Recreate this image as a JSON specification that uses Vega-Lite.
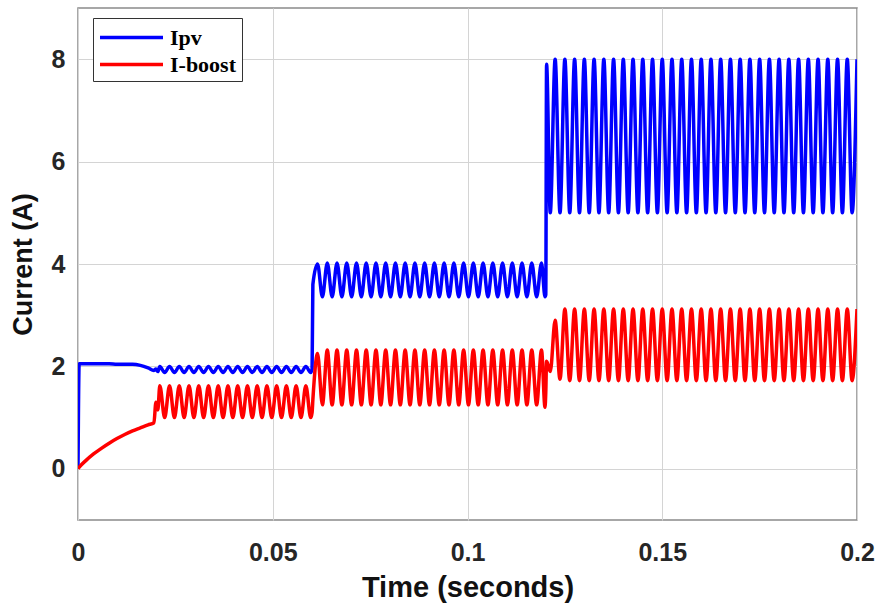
{
  "$schema": "https://vega.github.io/schema/vega-lite/v6.json",
  "width": 779,
  "height": 512,
  "autosize": "none",
  "padding": {"left": 78, "top": 8, "right": 26, "bottom": 93},
  "background": "white",
  "config": {
    "view": {"stroke": "#8a8a8a", "strokeWidth": 1.5},
    "axis": {
      "grid": true,
      "gridColor": "#d4d4d4",
      "gridWidth": 1,
      "ticks": false,
      "domain": false,
      "labelFont": "Liberation Sans",
      "labelFontSize": 25,
      "labelFontWeight": "bold",
      "labelColor": "#262626",
      "titleFont": "Liberation Sans",
      "titleFontWeight": "bold",
      "titleColor": "#111111"
    }
  },
  "data": {
    "values": [
      {"t": 0, "Ipv": 0, "I-boost": 0},
      {"t": 0.0003, "Ipv": 2.05, "I-boost": 0.03},
      {"t": 0.002, "Ipv": 2.05, "I-boost": 0.16},
      {"t": 0.004, "Ipv": 2.05, "I-boost": 0.29},
      {"t": 0.006, "Ipv": 2.05, "I-boost": 0.4},
      {"t": 0.008, "Ipv": 2.05, "I-boost": 0.5},
      {"t": 0.01, "Ipv": 2.04, "I-boost": 0.59},
      {"t": 0.012, "Ipv": 2.04, "I-boost": 0.67},
      {"t": 0.014, "Ipv": 2.04, "I-boost": 0.74},
      {"t": 0.016, "Ipv": 2.02, "I-boost": 0.8},
      {"t": 0.018, "Ipv": 1.97, "I-boost": 0.86},
      {"t": 0.0195, "Ipv": 1.92, "I-boost": 0.9},
      {"t": 0.02, "Ipv": 1.95, "I-boost": 1.3},
      {"t": 0.0205, "Ipv": 1.9, "I-boost": 1.15},
      {"t": 0.021, "Ipv": 2.0, "I-boost": 1.62},
      {"t": 0.02225, "Ipv": 1.88, "I-boost": 1.0},
      {"t": 0.0235, "Ipv": 2.0, "I-boost": 1.62},
      {"t": 0.02475, "Ipv": 1.88, "I-boost": 1.0},
      {"t": 0.026, "Ipv": 2.0, "I-boost": 1.62},
      {"t": 0.02725, "Ipv": 1.88, "I-boost": 1.0},
      {"t": 0.0285, "Ipv": 2.0, "I-boost": 1.62},
      {"t": 0.02975, "Ipv": 1.88, "I-boost": 1.0},
      {"t": 0.031, "Ipv": 2.0, "I-boost": 1.62},
      {"t": 0.03225, "Ipv": 1.88, "I-boost": 1.0},
      {"t": 0.0335, "Ipv": 2.0, "I-boost": 1.62},
      {"t": 0.03475, "Ipv": 1.88, "I-boost": 1.0},
      {"t": 0.036, "Ipv": 2.0, "I-boost": 1.62},
      {"t": 0.03725, "Ipv": 1.88, "I-boost": 1.0},
      {"t": 0.0385, "Ipv": 2.0, "I-boost": 1.62},
      {"t": 0.03975, "Ipv": 1.88, "I-boost": 1.0},
      {"t": 0.041, "Ipv": 2.0, "I-boost": 1.62},
      {"t": 0.04225, "Ipv": 1.88, "I-boost": 1.0},
      {"t": 0.0435, "Ipv": 2.0, "I-boost": 1.62},
      {"t": 0.04475, "Ipv": 1.88, "I-boost": 1.0},
      {"t": 0.046, "Ipv": 2.0, "I-boost": 1.62},
      {"t": 0.04725, "Ipv": 1.88, "I-boost": 1.0},
      {"t": 0.0485, "Ipv": 2.0, "I-boost": 1.62},
      {"t": 0.04975, "Ipv": 1.88, "I-boost": 1.0},
      {"t": 0.051, "Ipv": 2.0, "I-boost": 1.62},
      {"t": 0.05225, "Ipv": 1.88, "I-boost": 1.0},
      {"t": 0.0535, "Ipv": 2.0, "I-boost": 1.62},
      {"t": 0.05475, "Ipv": 1.88, "I-boost": 1.0},
      {"t": 0.056, "Ipv": 2.0, "I-boost": 1.62},
      {"t": 0.05725, "Ipv": 1.88, "I-boost": 1.0},
      {"t": 0.0585, "Ipv": 2.0, "I-boost": 1.62},
      {"t": 0.05975, "Ipv": 1.88, "I-boost": 1.0},
      {"t": 0.0601, "Ipv": 1.95, "I-boost": 1.1},
      {"t": 0.0603, "Ipv": 3.6, "I-boost": 1.35},
      {"t": 0.0615, "Ipv": 4.0, "I-boost": 2.25},
      {"t": 0.06275, "Ipv": 3.36, "I-boost": 1.25},
      {"t": 0.064, "Ipv": 4.02, "I-boost": 2.32},
      {"t": 0.06525, "Ipv": 3.36, "I-boost": 1.25},
      {"t": 0.0665, "Ipv": 4.02, "I-boost": 2.32},
      {"t": 0.06775, "Ipv": 3.36, "I-boost": 1.25},
      {"t": 0.069, "Ipv": 4.02, "I-boost": 2.32},
      {"t": 0.07025, "Ipv": 3.36, "I-boost": 1.25},
      {"t": 0.0715, "Ipv": 4.02, "I-boost": 2.32},
      {"t": 0.07275, "Ipv": 3.36, "I-boost": 1.25},
      {"t": 0.074, "Ipv": 4.02, "I-boost": 2.32},
      {"t": 0.07525, "Ipv": 3.36, "I-boost": 1.25},
      {"t": 0.0765, "Ipv": 4.02, "I-boost": 2.32},
      {"t": 0.07775, "Ipv": 3.36, "I-boost": 1.25},
      {"t": 0.079, "Ipv": 4.02, "I-boost": 2.32},
      {"t": 0.08025, "Ipv": 3.36, "I-boost": 1.25},
      {"t": 0.0815, "Ipv": 4.02, "I-boost": 2.32},
      {"t": 0.08275, "Ipv": 3.36, "I-boost": 1.25},
      {"t": 0.084, "Ipv": 4.02, "I-boost": 2.32},
      {"t": 0.08525, "Ipv": 3.36, "I-boost": 1.25},
      {"t": 0.0865, "Ipv": 4.02, "I-boost": 2.32},
      {"t": 0.08775, "Ipv": 3.36, "I-boost": 1.25},
      {"t": 0.089, "Ipv": 4.02, "I-boost": 2.32},
      {"t": 0.09025, "Ipv": 3.36, "I-boost": 1.25},
      {"t": 0.0915, "Ipv": 4.02, "I-boost": 2.32},
      {"t": 0.09275, "Ipv": 3.36, "I-boost": 1.25},
      {"t": 0.094, "Ipv": 4.02, "I-boost": 2.32},
      {"t": 0.09525, "Ipv": 3.36, "I-boost": 1.25},
      {"t": 0.0965, "Ipv": 4.02, "I-boost": 2.32},
      {"t": 0.09775, "Ipv": 3.36, "I-boost": 1.25},
      {"t": 0.099, "Ipv": 4.02, "I-boost": 2.32},
      {"t": 0.10025, "Ipv": 3.36, "I-boost": 1.25},
      {"t": 0.1015, "Ipv": 4.02, "I-boost": 2.32},
      {"t": 0.10275, "Ipv": 3.36, "I-boost": 1.25},
      {"t": 0.104, "Ipv": 4.02, "I-boost": 2.32},
      {"t": 0.10525, "Ipv": 3.36, "I-boost": 1.25},
      {"t": 0.1065, "Ipv": 4.02, "I-boost": 2.32},
      {"t": 0.10775, "Ipv": 3.36, "I-boost": 1.25},
      {"t": 0.109, "Ipv": 4.02, "I-boost": 2.32},
      {"t": 0.11025, "Ipv": 3.36, "I-boost": 1.25},
      {"t": 0.1115, "Ipv": 4.02, "I-boost": 2.32},
      {"t": 0.11275, "Ipv": 3.36, "I-boost": 1.25},
      {"t": 0.114, "Ipv": 4.02, "I-boost": 2.32},
      {"t": 0.11525, "Ipv": 3.36, "I-boost": 1.25},
      {"t": 0.1165, "Ipv": 4.02, "I-boost": 2.32},
      {"t": 0.11775, "Ipv": 3.36, "I-boost": 1.25},
      {"t": 0.119, "Ipv": 4.02, "I-boost": 2.32},
      {"t": 0.1199, "Ipv": 3.36, "I-boost": 1.2},
      {"t": 0.1201, "Ipv": 3.4, "I-boost": 1.5},
      {"t": 0.1203, "Ipv": 7.9, "I-boost": 2.1},
      {"t": 0.12125, "Ipv": 5.0, "I-boost": 1.9},
      {"t": 0.1225, "Ipv": 8.0, "I-boost": 2.9},
      {"t": 0.12375, "Ipv": 5.0, "I-boost": 1.75},
      {"t": 0.125, "Ipv": 8.0, "I-boost": 3.12},
      {"t": 0.12625, "Ipv": 5.0, "I-boost": 1.72},
      {"t": 0.1275, "Ipv": 8.0, "I-boost": 3.12},
      {"t": 0.12875, "Ipv": 5.0, "I-boost": 1.72},
      {"t": 0.13, "Ipv": 8.0, "I-boost": 3.12},
      {"t": 0.13125, "Ipv": 5.0, "I-boost": 1.72},
      {"t": 0.1325, "Ipv": 8.0, "I-boost": 3.12},
      {"t": 0.13375, "Ipv": 5.0, "I-boost": 1.72},
      {"t": 0.135, "Ipv": 8.0, "I-boost": 3.12},
      {"t": 0.13625, "Ipv": 5.0, "I-boost": 1.72},
      {"t": 0.1375, "Ipv": 8.0, "I-boost": 3.12},
      {"t": 0.13875, "Ipv": 5.0, "I-boost": 1.72},
      {"t": 0.14, "Ipv": 8.0, "I-boost": 3.12},
      {"t": 0.14125, "Ipv": 5.0, "I-boost": 1.72},
      {"t": 0.1425, "Ipv": 8.0, "I-boost": 3.12},
      {"t": 0.14375, "Ipv": 5.0, "I-boost": 1.72},
      {"t": 0.145, "Ipv": 8.0, "I-boost": 3.12},
      {"t": 0.14625, "Ipv": 5.0, "I-boost": 1.72},
      {"t": 0.1475, "Ipv": 8.0, "I-boost": 3.12},
      {"t": 0.14875, "Ipv": 5.0, "I-boost": 1.72},
      {"t": 0.15, "Ipv": 8.0, "I-boost": 3.12},
      {"t": 0.15125, "Ipv": 5.0, "I-boost": 1.72},
      {"t": 0.1525, "Ipv": 8.0, "I-boost": 3.12},
      {"t": 0.15375, "Ipv": 5.0, "I-boost": 1.72},
      {"t": 0.155, "Ipv": 8.0, "I-boost": 3.12},
      {"t": 0.15625, "Ipv": 5.0, "I-boost": 1.72},
      {"t": 0.1575, "Ipv": 8.0, "I-boost": 3.12},
      {"t": 0.15875, "Ipv": 5.0, "I-boost": 1.72},
      {"t": 0.16, "Ipv": 8.0, "I-boost": 3.12},
      {"t": 0.16125, "Ipv": 5.0, "I-boost": 1.72},
      {"t": 0.1625, "Ipv": 8.0, "I-boost": 3.12},
      {"t": 0.16375, "Ipv": 5.0, "I-boost": 1.72},
      {"t": 0.165, "Ipv": 8.0, "I-boost": 3.12},
      {"t": 0.16625, "Ipv": 5.0, "I-boost": 1.72},
      {"t": 0.1675, "Ipv": 8.0, "I-boost": 3.12},
      {"t": 0.16875, "Ipv": 5.0, "I-boost": 1.72},
      {"t": 0.17, "Ipv": 8.0, "I-boost": 3.12},
      {"t": 0.17125, "Ipv": 5.0, "I-boost": 1.72},
      {"t": 0.1725, "Ipv": 8.0, "I-boost": 3.12},
      {"t": 0.17375, "Ipv": 5.0, "I-boost": 1.72},
      {"t": 0.175, "Ipv": 8.0, "I-boost": 3.12},
      {"t": 0.17625, "Ipv": 5.0, "I-boost": 1.72},
      {"t": 0.1775, "Ipv": 8.0, "I-boost": 3.12},
      {"t": 0.17875, "Ipv": 5.0, "I-boost": 1.72},
      {"t": 0.18, "Ipv": 8.0, "I-boost": 3.12},
      {"t": 0.18125, "Ipv": 5.0, "I-boost": 1.72},
      {"t": 0.1825, "Ipv": 8.0, "I-boost": 3.12},
      {"t": 0.18375, "Ipv": 5.0, "I-boost": 1.72},
      {"t": 0.185, "Ipv": 8.0, "I-boost": 3.12},
      {"t": 0.18625, "Ipv": 5.0, "I-boost": 1.72},
      {"t": 0.1875, "Ipv": 8.0, "I-boost": 3.12},
      {"t": 0.18875, "Ipv": 5.0, "I-boost": 1.72},
      {"t": 0.19, "Ipv": 8.0, "I-boost": 3.12},
      {"t": 0.19125, "Ipv": 5.0, "I-boost": 1.72},
      {"t": 0.1925, "Ipv": 8.0, "I-boost": 3.12},
      {"t": 0.19375, "Ipv": 5.0, "I-boost": 1.72},
      {"t": 0.195, "Ipv": 8.0, "I-boost": 3.12},
      {"t": 0.19625, "Ipv": 5.0, "I-boost": 1.72},
      {"t": 0.1975, "Ipv": 8.0, "I-boost": 3.12},
      {"t": 0.19875, "Ipv": 5.0, "I-boost": 1.72},
      {"t": 0.2, "Ipv": 8.0, "I-boost": 3.12}
    ]
  },
  "transform": [{"fold": ["Ipv", "I-boost"], "as": ["series", "value"]}],
  "mark": {"type": "line", "strokeWidth": 3.5, "strokeJoin": "round", "interpolate": "monotone", "clip": true},
  "encoding": {
    "x": {
      "field": "t",
      "type": "quantitative",
      "scale": {"domain": [0, 0.2], "nice": false, "zero": false},
      "axis": {
        "values": [0, 0.05, 0.1, 0.15, 0.2],
        "title": "Time (seconds)",
        "titleFontSize": 29,
        "labelPadding": 20,
        "titlePadding": 8,
        "labelFlush": false,
        "format": "~g"
      }
    },
    "y": {
      "field": "value",
      "type": "quantitative",
      "scale": {"domain": [-1, 9], "nice": false, "zero": false},
      "axis": {
        "values": [0, 2, 4, 6, 8],
        "title": "Current (A)",
        "titleFontSize": 27,
        "labelPadding": 13,
        "titlePadding": 14
      }
    },
    "color": {
      "field": "series",
      "type": "nominal",
      "sort": ["Ipv", "I-boost"],
      "scale": {"domain": ["Ipv", "I-boost"], "range": ["#0000ff", "#ff0000"]},
      "legend": {
        "title": null,
        "orient": "none",
        "legendX": 15,
        "legendY": 10,
        "symbolType": "M-1,0H4.04",
        "symbolSize": 625,
        "symbolStrokeWidth": 3.5,
        "labelOffset": 43,
        "labelFont": "Liberation Serif",
        "labelFontWeight": "bold",
        "labelFontSize": 22,
        "labelColor": "#000000",
        "strokeColor": "#333333",
        "fillColor": "white",
        "padding": 5,
        "rowPadding": 1,
        "cornerRadius": 0
      }
    }
  }
}
